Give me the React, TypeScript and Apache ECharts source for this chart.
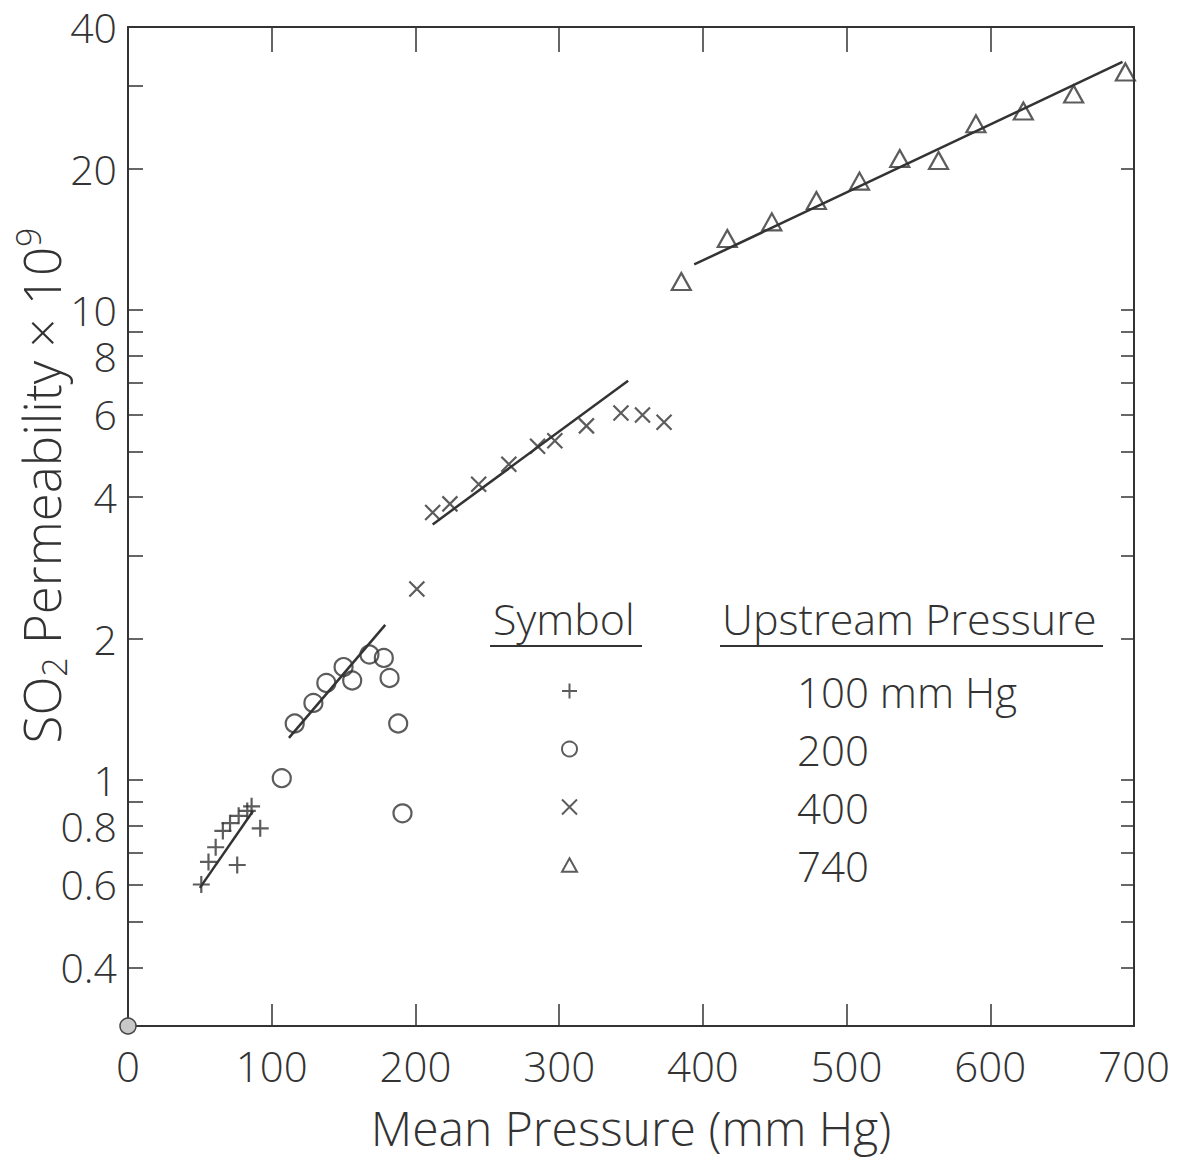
import React, { useEffect, useRef } from "react";
import * as echarts from "echarts";

// ---- axis ticks / labels ----
const xLabelValues = [0, 100, 200, 300, 400, 500, 600, 700];
const xInnerTicks = [100, 200, 300, 400, 500, 600];
const yLabelValues = [0.4, 0.6, 0.8, 1, 2, 4, 6, 8, 10, 20, 40];
const yLeftTicks = [0.4, 0.5, 0.6, 0.7, 0.8, 0.9, 1, 2, 3, 4, 5, 6, 7, 8, 9, 10, 20, 30];
const yRightTicks = [0.4, 0.5, 0.6, 0.7, 0.8, 0.9, 1, 2, 3, 4, 5, 6, 7, 8, 9, 10, 20];

// ---- legend ----
const legendNames = ["100 mm Hg", "200", "400", "740"];

// ---- data: [mean pressure (mm Hg), SO2 permeability x 1e9] ----
const p100 = [[51, 0.6], [56, 0.67], [61, 0.72], [66, 0.78], [71, 0.81], [77, 0.84], [83, 0.86], [86, 0.88], [92, 0.79], [76, 0.66]];
const p200 = [[107, 1.01], [116, 1.32], [129, 1.46], [138, 1.61], [150, 1.74], [156, 1.63], [168, 1.85], [178, 1.82], [182, 1.65], [188, 1.32], [191, 0.85]];
const p400 = [[201, 2.55], [212, 3.71], [224, 3.87], [244, 4.26], [265, 4.7], [285, 5.13], [297, 5.27], [319, 5.67], [343, 6.04], [358, 5.98], [373, 5.77]];
const p740 = [[385, 11.5], [417, 14.2], [448, 15.4], [479, 17.1], [509, 18.8], [537, 21.0], [564, 20.8], [590, 24.9], [623, 26.5], [658, 28.8], [694, 32.1]];

// fitted lines
const fit100 = [[50, 0.59], [87, 0.86]];
const fit200 = [[112, 1.23], [179, 2.14]];
const fit400 = [[212, 3.5], [348, 7.07]];
const fit740 = [[394, 12.5], [692, 33.7]];

const INK = "#333";
const FONT = "'Open Sans', 'DejaVu Sans', sans-serif";
const PLUS = "path://M5,0 L5,10 M0,5 L10,5";
const CROSS = "path://M0,0 L10,10 M10,0 L0,10";
const TRI = "path://M5,0 L10,9 L0,9 Z";

export default function App() {
  const ref = useRef<HTMLDivElement>(null);
  useEffect(() => {
    if (!ref.current) return;
    const chart = echarts.init(ref.current, undefined, { renderer: "svg" });
    const axisLine = { show: true, onZero: false, lineStyle: { color: INK, width: 2 } };
    const noSplit = { show: false };
    const yBase = { type: "log", logBase: 10, min: 0.3, max: 40, splitLine: noSplit, offset: 0 };
    const lineStyle = { color: INK, width: 2.5 };
    const markerStyle = { color: "transparent", borderColor: INK, borderWidth: 2.2 };
    const option: any = {
      animation: false,
      backgroundColor: "#fff",
      textStyle: { fontFamily: FONT, fontWeight: 300 },
      grid: { left: 128, right: 49, top: 27, bottom: 135, containLabel: false, outerBoundsMode: "none" },
      xAxis: [
        {
          type: "value", position: "bottom", min: 0, max: 700, interval: 100, offset: 0,
          axisLine, splitLine: noSplit,
          axisTick: { show: true, inside: true, length: 22, customValues: xInnerTicks, lineStyle: { color: INK, width: 1.5 } },
          axisLabel: { customValues: xLabelValues, fontSize: 42, lineHeight: 42, color: INK, margin: 18, fontFamily: FONT, fontWeight: 300 },
          name: "Mean Pressure (mm Hg)", nameLocation: "middle", nameGap: 76, nameMoveOverlap: false,
          nameTextStyle: { fontSize: 48, lineHeight: 50, color: INK, fontFamily: FONT, fontWeight: 300 },
        },
        {
          type: "value", position: "top", min: 0, max: 700, interval: 100, offset: 0,
          axisLine, splitLine: noSplit,
          axisTick: { show: true, inside: true, length: 25, customValues: xInnerTicks, lineStyle: { color: INK, width: 1.5 } },
          axisLabel: { show: false },
        },
      ],
      yAxis: [
        {
          ...yBase, position: "left", axisLine,
          axisTick: { show: true, inside: true, length: 15, customValues: yLeftTicks, lineStyle: { color: INK, width: 1.5 } },
          axisLabel: { customValues: yLabelValues, fontSize: 41, lineHeight: 30, color: INK, margin: 11, fontFamily: FONT, fontWeight: 300, formatter: (v: number) => String(v) },
          name: "SO{sub|2} Permeability × 10{sup|9}", nameLocation: "middle", nameGap: 57, nameRotate: 90, nameMoveOverlap: false,
          nameTextStyle: {
            fontSize: 51, color: INK, fontFamily: FONT, fontWeight: 300, lineHeight: 60, padding: [0, 0, 0, 82],
            rich: {
              sub: { fontSize: 34, color: INK, fontFamily: FONT, fontWeight: 300, verticalAlign: "bottom", lineHeight: 60 },
              sup: { fontSize: 34, color: INK, fontFamily: FONT, fontWeight: 300, verticalAlign: "top", lineHeight: 60 },
            },
          },
        },
        {
          ...yBase, position: "right", axisLine,
          axisTick: { show: true, inside: true, length: 13, customValues: yRightTicks, lineStyle: { color: INK, width: 1.5 } },
          axisLabel: { show: false },
        },
      ],
      legend: {
        orient: "vertical", left: 561, top: 670, padding: 0, itemWidth: 15, itemHeight: 15, itemGap: 16,
        data: legendNames, selectedMode: false,
        textStyle: { fontSize: 42, color: INK, fontFamily: FONT, fontWeight: 300, padding: [0, 0, 0, 215] },
      },
      graphic: [
        { type: "text", x: 493, y: 618, style: { text: "Symbol", fontSize: 43, fontFamily: FONT, fontWeight: 300, fill: INK, textAlign: "left", textVerticalAlign: "middle", align: "left", verticalAlign: "middle" } },
        { type: "line", shape: { x1: 490, y1: 646, x2: 642, y2: 646 }, style: { stroke: INK, lineWidth: 2 } },
        { type: "text", x: 722, y: 618, style: { text: "Upstream Pressure", fontSize: 43, fontFamily: FONT, fontWeight: 300, fill: INK, textAlign: "left", textVerticalAlign: "middle", align: "left", verticalAlign: "middle" } },
        { type: "line", shape: { x1: 720, y1: 646, x2: 1103, y2: 646 }, style: { stroke: INK, lineWidth: 2 } },
        { type: "circle", shape: { cx: 128, cy: 1026, r: 8 }, style: { fill: "#c8c8c8", stroke: "#444", lineWidth: 1.5 }, z: 100 },
      ],
      series: [
        { type: "scatter", name: "100 mm Hg", data: p100, symbol: PLUS, symbolSize: 17, itemStyle: markerStyle },
        { type: "scatter", name: "200", data: p200, symbol: "circle", symbolSize: 18, itemStyle: markerStyle },
        { type: "scatter", name: "400", data: p400, symbol: CROSS, symbolSize: 15, itemStyle: markerStyle },
        { type: "scatter", name: "740", data: p740, symbol: TRI, symbolSize: [19, 17], itemStyle: markerStyle },
        { type: "line", name: "fit100", data: fit100, symbol: "none", lineStyle, silent: true },
        { type: "line", name: "fit200", data: fit200, symbol: "none", lineStyle, silent: true },
        { type: "line", name: "fit400", data: fit400, symbol: "none", lineStyle, silent: true },
        { type: "line", name: "fit740", data: fit740, symbol: "none", lineStyle, silent: true },
      ],
    };
    chart.setOption(option);
    return () => chart.dispose();
  }, []);
  return (
    <div
      ref={ref}
      style={{ position: "absolute", left: 0, top: 0, width: 1183, height: 1161, background: "#fff" }}
    />
  );
}
